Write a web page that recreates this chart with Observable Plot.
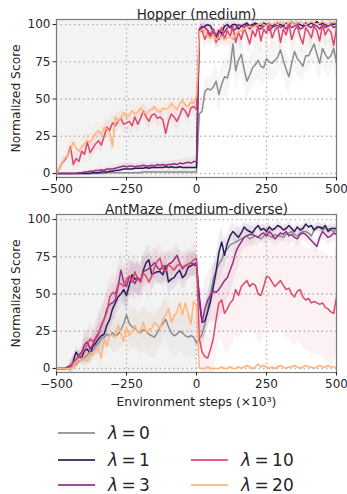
<!DOCTYPE html>
<html>
<head>
<meta charset="utf-8">
<script src="https://cdn.jsdelivr.net/npm/d3@7"></script>
<script src="https://cdn.jsdelivr.net/npm/@observablehq/plot@0.6"></script>
<style>
  html, body { margin: 0; padding: 0; background: #fff; }
  #wrap { position: relative; width: 347px; height: 494px; overflow: hidden; font-family: "DejaVu Sans", sans-serif; }
  #wrap svg { display: block; font-family: "DejaVu Sans", sans-serif !important; font-size: 12px !important; }
  #wrap svg g[aria-label="x-axis tick label"] text,
  #wrap svg g[aria-label="y-axis tick label"] text { font-size: 12px !important; }
  #wrap svg g[aria-label="x-axis label"] text,
  #wrap svg g[aria-label="y-axis label"] text { font-size: 12.3px !important; }
  .leg-line { position: absolute; height: 2px; }
  .leg-text { position: absolute; font-size: 17px; color: #262626; line-height: 17px; white-space: nowrap; }
</style>
</head>
<body>
<div id="wrap"></div>
<script>
// ---------- data ----------
const steps = [
  -500,-490,-480,-470,-460,-450,-440,-430,-420,-410,
  -400,-390,-380,-370,-360,-350,-340,-330,-320,-310,
  -300,-290,-280,-270,-260,-250,-240,-230,-220,-210,
  -200,-190,-180,-170,-160,-150,-140,-130,-120,-110,
  -100,-90,-80,-70,-60,-50,-40,-30,-20,-10,
  0,
  10,20,30,40,50,60,70,80,90,100,
  110,120,130,140,150,160,170,180,190,200,
  210,220,230,240,250,260,270,280,290,300,
  310,320,330,340,350,360,370,380,390,400,
  410,420,430,440,450,460,470,480,490,500
];
const lambdas = ["0", "1", "3", "10", "20"];
const xTicks = [-500, -250, 0, 250, 500];
const yTicks = [0, 25, 50, 75, 100];
const offlinePhase = [{start: -500, end: 0}];

// Hopper (medium) mean curves
const hopperL0 = [
  0,0,0,0,0,0,0,0,0,0,
  0,0,0,0,0,0,0,0,0.5,0.5,
  0.5,0.5,0.5,0.5,0.5,0.5,0.5,0.5,0.5,0.5,
  0.5,1,1,1,1,1,1,1,1,1,
  1,1,1,1,1,1,1,1,1,1,
  1,
  40,42,55,57,56,58,62,53,60,65,
  64,71,87,69,76,80,70,62,66,71,
  73,76,72,71,77,75,74,76,78,83,
  76,70,65,74,82,77,75,72,79,79,
  83,87,80,74,84,80,77,79,84,74
];
const hopperL1 = [
  0,0,0,0,0,0,0,0,0,0,
  0,0,0,0.5,0.5,0.5,1,1,1,1.5,
  1.5,2,2,2.5,3,3,3,3,3.5,3.5,
  3.5,3.5,4,3.5,4,4,4,4,4,4.5,
  4,4.5,4,4,4.5,4,4,4,4,4,
  4,
  96,98,99,100,99,95,92,96,94,99,
  100,98,100,100,97,99,100,101,99,100,
  101,100,99,101,100,101,99,100,101,100,
  99,101,100,102,100,101,100,99,101,100,
  101,100,102,100,101,100,99,101,100,101
];
const hopperL3 = [
  0,0,0,0,0,0,0,0,0.5,0.5,
  1,1,1.5,1.5,2,2,2.5,2,3,3,
  3,3.5,4,4.5,5,4.5,5,5,4.5,5,
  5,5.5,5,5,5.5,5,6,5.5,6,5.5,
  6,6,6.5,6,7,6.5,7,7.5,7,8,
  8,
  97,99,98,96,93,97,92,90,93,95,
  98,99,96,97,100,99,98,100,97,99,
  100,98,97,99,100,96,98,99,100,98,
  99,97,100,98,99,100,97,98,100,99,
  98,100,99,97,100,98,99,100,98,99
];
const hopperL10 = [
  0,3,7,9,12,18,6,10,8,15,
  13,21,14,17,20,22,19,25,31,29,
  34,32,35,37,33,34,35,32,38,33,
  37,42,38,35,39,40,37,38,36,27,
  35,40,38,35,39,44,42,38,44,45,
  43,
  95,96,90,95,91,97,88,94,98,90,
  96,92,99,88,95,90,98,93,87,96,
  92,99,89,97,94,100,91,96,99,88,
  97,93,100,90,96,99,92,87,98,95,
  91,99,96,89,100,93,97,95,86,98
];
const hopperL20 = [
  0,3,7,10,12,16,21,17,15,18,
  20,22,21,24,27,29,26,31,30,27,
  18,38,35,37,41,38,39,42,40,41,
  44,41,40,42,43,45,42,41,44,43,
  44,47,45,43,47,49,46,45,48,47,
  52,
  95,97,96,92,91,93,90,91,92,90,
  91,92,90,94,95,96,97,98,99,98,
  99,100,101,100,99,101,100,101,100,102,
  101,100,101,102,100,101,102,101,100,101,
  102,101,100,101,102,101,100,101,102,101
];

// AntMaze (medium-diverse) mean curves
const antL0 = [
  0,0,0,0,0,0,1,3,5,6,
  7,9,11,12,15,17,20,21,23,22,
  24,22,23,26,30,36,30,28,27,25,
  24,26,25,23,22,21,24,28,30,33,
  28,24,22,23,25,24,22,21,22,21,
  17,
  20,23,30,40,50,60,66,70,73,78,
  80,83,84,85,86,87,88,89,87,88,
  89,88,87,89,90,89,88,90,89,89,
  88,90,91,92,90,89,91,92,92,91,
  89,93,94,95,93,94,94,93,92,93
];
const antL1 = [
  0,0,0,0,1,0,5,11,8,7,
  12,13,10,15,17,20,22,23,29,33,
  40,44,48,50,53,49,56,63,60,61,
  58,66,71,73,63,64,65,65,63,69,
  58,60,61,64,66,61,63,68,69,70,
  69,
  48,31,32,38,45,55,65,78,85,76,
  84,89,92,90,88,91,95,93,92,91,
  94,96,93,94,92,95,93,94,96,95,
  93,94,96,94,92,95,93,94,97,95,
  96,93,95,95,94,96,92,94,94,94
];
const antL3 = [
  0,0,0,0,1,2,4,6,9,11,
  16,18,13,16,20,23,29,33,40,43,
  44,46,55,66,58,55,62,60,57,61,
  59,65,66,67,69,71,68,66,69,68,
  70,71,73,76,71,67,69,70,71,70,
  71,
  45,31,40,46,49,52,51,53,56,59,
  61,66,71,78,82,85,88,89,90,90,
  89,88,90,91,89,92,90,87,89,91,
  90,92,89,90,88,87,90,91,90,88,
  86,84,82,88,92,90,88,89,91,90
];
const antL10 = [
  0,0,0,0,0,1,4,6,8,10,
  13,16,20,18,21,24,28,33,38,48,
  51,50,56,57,55,60,62,58,65,60,
  58,64,62,58,62,68,72,74,67,65,
  70,68,66,69,70,68,69,70,71,73,
  74,
  20,11,8,7,13,20,33,44,46,37,
  40,44,46,53,49,55,57,59,55,57,
  56,50,49,55,62,61,58,55,57,59,
  56,53,54,50,48,52,53,48,46,47,
  44,45,44,43,44,41,40,38,37,48
];
const antL20 = [
  0,0,0,0,0,0,1,2,4,7,
  6,5,11,10,12,13,7,20,15,23,
  22,21,29,24,18,27,22,25,29,24,
  25,31,24,26,27,31,29,27,33,36,
  40,31,35,38,44,36,44,36,30,45,
  42,
  0,0,0,1,0,0,0,0,1,0,
  0,1,0,0,1,0,1,2,1,0,
  1,3,1,2,1,0,1,0,1,2,
  1,0,1,1,2,1,0,1,2,1,
  1,0,1,2,1,1,2,1,1,0
];

// spread (half-width of shaded band), one value per 50-step block:
// 10 blocks before 0, 10 blocks after 0
const hopperSd0  = [0,0,0,0,0,0.5,1,1,1.5,1.5,  8,12,14,12,12,12,12,11,12,12];
const hopperSd1  = [0,0,0,0,0.5,1,1,1,1,1,       3,2,2,1,1,1,1,1,1,1];
const hopperSd3  = [0,0.5,1,1.5,2,2,2,2,2.5,3,   4,6,4,3,3,3,3,3,3,3];
const hopperSd10 = [2,5,6,6,6,6,6,6,6,5,         6,7,8,8,9,8,7,7,7,8];
const hopperSd20 = [3,6,6,6,5,5,5,5,4,4,         4,5,5,4,3,2,2,2,2,2];
const antSd0  = [0,3,6,8,12,14,15,14,14,14,      8,10,6,4,3,3,3,3,3,3];
const antSd1  = [0,4,8,10,10,10,10,8,8,8,        12,10,6,4,3,3,3,3,3,3];
const antSd3  = [0,4,8,12,12,12,10,10,8,8,       18,20,15,8,6,5,5,5,5,5];
const antSd10 = [0,4,10,12,12,12,12,10,10,10,    15,25,30,32,32,33,33,34,35,36];
const antSd20 = [0,3,6,8,10,12,12,12,12,14,      1,1,1,1,2,2,1,1,1,1];

const colors = ["#8c8c8c", "#2d1b5e", "#982d80", "#dc486c", "#feb47b"];

// ---------- build ----------
function blockOf(i) {
  return i <= 50 ? Math.min(9, Math.floor(i / 5)) : 10 + Math.floor((i - 51) / 5);
}
function buildRows(means, sds) {
  const rows = [];
  means.forEach((m, k) => {
    steps.forEach((x, i) => {
      const s = sds[k][blockOf(i)];
      rows.push({x, y: m[i], lo: m[i] - s, hi: m[i] + s, lam: lambdas[k]});
    });
  });
  return rows;
}
const fmt = d => d < 0 ? "\u2212" + (-d) : String(d);

function panel(title, rows, height, marginBottom, xLabel) {
  const gridStyle = {stroke: "#b3b3b3", strokeOpacity: 1, strokeDasharray: "1.5,3", strokeWidth: 1.3};
  return Plot.plot({
    width: 347, height,
    marginTop: 19, marginBottom, marginLeft: 56, marginRight: 11,
    style: {fontFamily: "DejaVu Sans", fontSize: "12px", color: "#262626", background: "transparent"},
    x: {domain: [-500, 500]},
    y: {domain: [-2.7, 103.4]},
    color: {domain: lambdas, range: colors},
    marks: [
      Plot.rect(offlinePhase, {x1: "start", x2: "end", fill: "#f3f3f3"}),
      Plot.gridX(xTicks, gridStyle),
      Plot.gridY(yTicks, gridStyle),
      Plot.areaY(rows, {x: "x", y1: "lo", y2: "hi", z: "lam", fill: "lam", fillOpacity: 0.08, clip: true}),
      Plot.lineY(rows, {x: "x", y: "y", z: "lam", stroke: "lam", strokeWidth: 1.5, clip: true}),
      Plot.frame({stroke: "#7a7a7a", strokeWidth: 1.2}),
      Plot.axisX(xTicks, {tickFormat: fmt, tickSize: 3.5, tickPadding: 3, label: xLabel, labelAnchor: "center", labelArrow: "none", labelOffset: 33}),
      Plot.axisY(yTicks, {tickSize: 3.5, tickPadding: 2.5, label: "Normalized Score", labelAnchor: "center", labelArrow: "none", labelOffset: 45}),
      Plot.text([title], {frameAnchor: "top", dy: -10.5, fontSize: 13.5, fill: "#262626"})
    ]
  });
}

const wrap = document.getElementById("wrap");
const topPanel = panel("Hopper (medium)",
  buildRows([hopperL0, hopperL1, hopperL3, hopperL10, hopperL20],
            [hopperSd0, hopperSd1, hopperSd3, hopperSd10, hopperSd20]),
  195, 18, null);
const bottomPanel = panel("AntMaze (medium-diverse)",
  buildRows([antL0, antL1, antL3, antL10, antL20],
            [antSd0, antSd1, antSd3, antSd10, antSd20]),
  217, 40, "Environment steps (\u00d710\u00b3)");
wrap.appendChild(topPanel);
wrap.appendChild(bottomPanel);

// ---------- legend ----------
const legendCol = [0, 0, 0, 1, 1];
const legendRow = [0, 1, 2, 1, 2];
const colX = [58, 191];
const rowY = [433, 460, 485];
lambdas.forEach((lam, k) => {
  const line = document.createElement("div");
  line.className = "leg-line";
  line.style.left = colX[legendCol[k]] + "px";
  line.style.width = "37px";
  line.style.top = (rowY[legendRow[k]] - 1) + "px";
  line.style.background = colors[k];
  line.style.opacity = "0.85";
  wrap.appendChild(line);
  const t = document.createElement("div");
  t.className = "leg-text";
  t.style.left = (colX[legendCol[k]] + 50) + "px";
  t.style.top = (rowY[legendRow[k]] - 8) + "px";
  t.innerHTML = '<span style="font-style:italic">\u03bb</span>\u2009=\u2009' + lam;
  wrap.appendChild(t);
});
</script>
</body>
</html>
